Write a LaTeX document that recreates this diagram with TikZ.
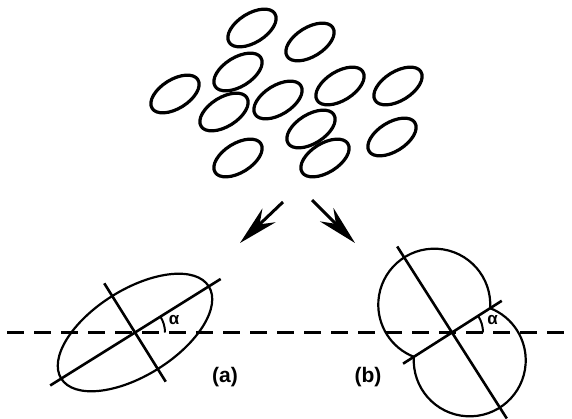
\documentclass[tikz,border=0pt]{standalone}
\usepackage{fontspec}
\setmainfont{Liberation Sans}
\usetikzlibrary{arrows.meta,calc}
\begin{document}
\begin{tikzpicture}[x=1pt,y=1pt,
  grain/.style={line width=3.2pt},
  outline/.style={line width=2.2pt},
  axisline/.style={line width=2.6pt},
  refline/.style={line width=2.6pt, dash pattern=on 17pt off 10pt},
  anglearc/.style={line width=2pt},
  dart/.style={line width=3pt, -{Stealth[length=40pt, width=19pt, inset=13pt]}},
  caselabel/.style={font=\fontsize{21}{25}\selectfont\bfseries, inner sep=0pt},
  anglelabel/.style={font=\fontsize{17}{20}\selectfont\bfseries, inner sep=0pt}]
\useasboundingbox (0,0) rectangle (572,418);
% grains
\foreach \n/\x/\y in {1/252/390, 2/310/376, 3/238/346, 4/175/324, 5/224/306, 6/278/318,
  7/340/332, 8/398/332, 9/311/289, 10/392/281, 11/238/260, 12/325/260} {
  \draw[grain, rotate around={32:(\x,\y)}] (\x,\y) ellipse[x radius=27, y radius=14.5];
}
% arrows
\coordinate (l0) at (283,216);
\coordinate (l1) at (240,175);
\coordinate (r0) at (312,218);
\coordinate (r1) at (355,175);
\draw[dart] (l0) -- (l1);
\draw[dart] (r0) -- (r1);
% reference line
\coordinate (d0) at (7,85.5);
\coordinate (d1) at (572,85.5);
\draw[refline] (d0) -- (d1);
% (a)
\coordinate (Oa) at (135,85.5);
\draw[outline, rotate around={32:(Oa)}] (Oa) ellipse[x radius=87, y radius=43];
\draw[axisline] ($(Oa)+(212:100)$) -- ($(Oa)+(32:101)$);
\draw[axisline] ($(Oa)+(122:58)$) -- ($(Oa)+(302:58)$);
\draw[anglearc] ($(Oa)+(32:30)$) arc[start angle=32, end angle=0, radius=30];
\node[anglelabel] (alphaa) at (174,97.5) {α};
\node[caselabel] (labela) at (225,40.5) {(a)};
% (b)
\coordinate (Ob) at (452,85.5);
\coordinate (P1) at ($(Ob)+(32.5:45.24)$);
\coordinate (P2) at ($(Ob)+(212.5:45.24)$);
\draw[outline] (P1) arc[start angle=-3.6, end angle=248.6, radius=56];
\draw[outline] (P2) arc[start angle=176.4, end angle=428.6, radius=56];
\draw[axisline] ($(Ob)+(122.5:102)$) -- ($(Ob)+(302.5:102)$);
\draw[axisline] ($(Ob)+(212.5:58)$) -- ($(Ob)+(32.5:59)$);
\draw[anglearc] ($(Ob)+(32.5:31)$) arc[start angle=32.5, end angle=0, radius=31];
\node[anglelabel] (alphab) at (492.5,97.5) {α};
\node[caselabel] (labelb) at (368,41) {(b)};
\end{tikzpicture}
\end{document}
